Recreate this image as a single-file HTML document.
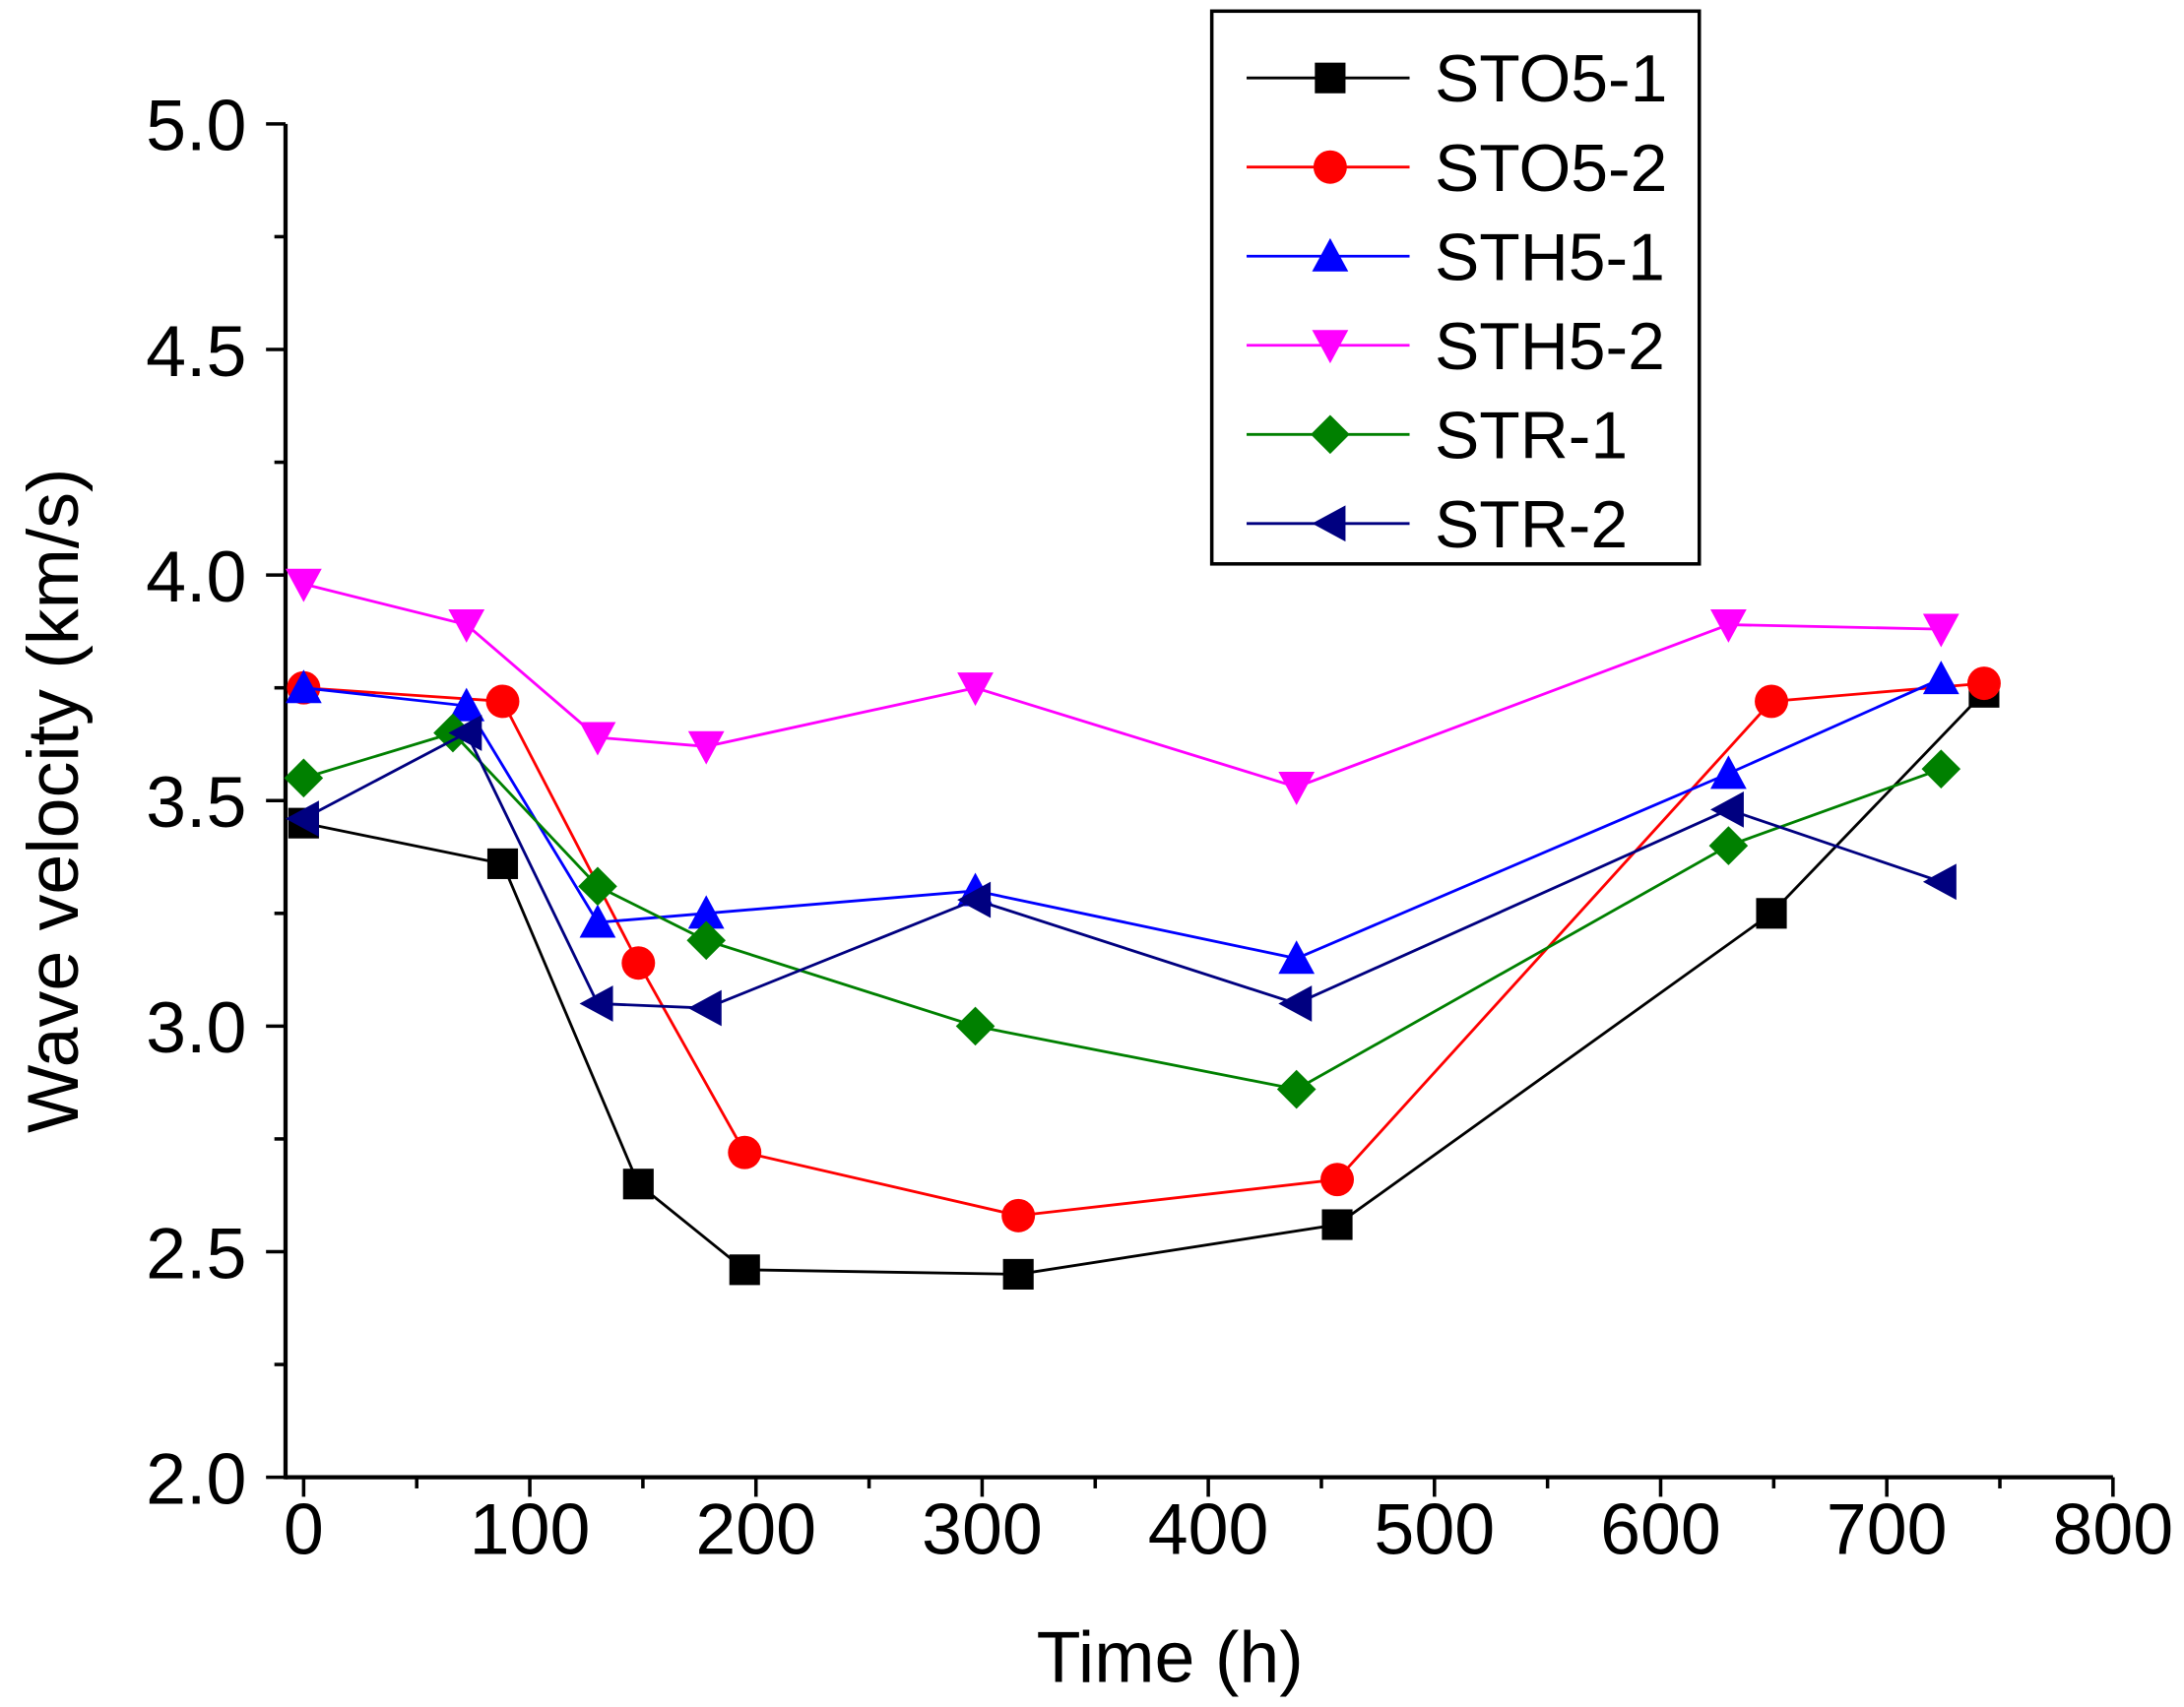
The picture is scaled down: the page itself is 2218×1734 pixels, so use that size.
<!DOCTYPE html>
<html><head><meta charset="utf-8"><style>
html,body{margin:0;padding:0;background:#fff;}
svg{display:block;font-family:"Liberation Sans",Arial,sans-serif;}
</style></head><body>
<svg id="chart" width="2218" height="1734" viewBox="0 0 1568 1226" preserveAspectRatio="none" xmlns="http://www.w3.org/2000/svg">
<rect width="1568" height="1226" fill="#fff"/>
<g id="axes"></g>
<g id="series"></g>
<g id="legend"></g>
</svg>
<script>
const seriesNames = ["STO5-1","STO5-2","STH5-1","STH5-2","STR-1","STR-2"];
const seriesColors = ["#000000","#ff0000","#0000ff","#ff00ff","#008000","#000080"];
const seriesMarkers = ["square","circle","up","down","diamond","left"];
const xSTO51 = [0,88,148,195,316,457,649,743];
const ySTO51 = [3.45,3.36,2.65,2.46,2.45,2.56,3.25,3.74];
const xSTO52 = [0,88,148,195,316,457,649,743];
const ySTO52 = [3.75,3.72,3.14,2.72,2.58,2.66,3.72,3.76];
const xSTH51 = [0,72,130,178,297,439,630,724];
const ySTH51 = [3.75,3.71,3.23,3.25,3.30,3.15,3.56,3.77];
const xSTH52 = [0,72,130,178,297,439,630,724];
const ySTH52 = [3.98,3.89,3.64,3.62,3.75,3.53,3.89,3.88];
const xSTR1 = [0,66,130,178,297,439,630,724];
const ySTR1 = [3.55,3.65,3.31,3.19,3.00,2.86,3.40,3.57];
const xSTR2 = [0,72,130,178,297,439,630,724];
const ySTR2 = [3.46,3.65,3.05,3.04,3.28,3.05,3.48,3.32];
const xTicks = [0,100,200,300,400,500,600,700,800];
const yTicks = [2.0,2.5,3.0,3.5,4.0,4.5,5.0];

const xs=[xSTO51,xSTO52,xSTH51,xSTH52,xSTR1,xSTR2];
const ys=[ySTO51,ySTO52,ySTH51,ySTH52,ySTR1,ySTR2];
const NS="http://www.w3.org/2000/svg";
const X0=218,X1=1517,Y0=1061,Y1=89,AXL=205;
function sx(v){return X0+(v-0)/(800-0)*(X1-X0);}
function sy(v){return Y0-(v-2)/(5-2)*(Y0-Y1);}
function mk(tag,attrs,parent){const e=document.createElementNS(NS,tag);for(const k in attrs)e.setAttribute(k,attrs[k]);parent.appendChild(e);return e;}
const axes=document.getElementById('axes');
let e;
e=mk('line',{x1:AXL,y1:Y0,x2:X1,y2:Y0,stroke:'#000','stroke-width':3},axes);


e=mk('line',{x1:AXL,y1:Y0+1.5,x2:AXL,y2:Y1,stroke:'#000','stroke-width':3},axes);


for(let v=0;v<=800;v+=50){const len=v%100===0?14:8;mk('line',{x1:sx(v),y1:Y0,x2:sx(v),y2:Y0+len,stroke:'#000','stroke-width':2.5},axes);}
xTicks.forEach(v=>{const t=mk('text',{x:sx(v),y:1116,'font-size':52,'text-anchor':'middle'},axes);t.textContent=v;

});
for(let v=2;v<=5.001;v+=0.25){const len=Math.abs(v*2-Math.round(v*2))<1e-6?14:8;mk('line',{x1:AXL,y1:sy(v),x2:AXL-len,y2:sy(v),stroke:'#000','stroke-width':2.5},axes);}
yTicks.forEach(v=>{const t=mk('text',{x:177,y:sy(v)+19,'font-size':52,'text-anchor':'end'},axes);t.textContent=v.toFixed(1);

});
e=mk('text',{x:840,y:1208,'font-size':52,'text-anchor':'middle'},axes);e.textContent='Time (h)';


e=mk('text',{x:0,y:0,'font-size':52,'text-anchor':'middle',transform:'translate(56,575) rotate(-90)'},axes);e.textContent='Wave velocity (km/s)';



function marker(type,x,y,c,p){const r=11;let el;
 if(type==='square')el=mk('rect',{x:x-r,y:y-r,width:2*r,height:2*r,fill:c},p);
 else if(type==='circle')el=mk('circle',{cx:x,cy:y,r:r+1,fill:c},p);
 else if(type==='up')el=mk('polygon',{points:`${x},${y-r-2} ${x-r-2},${y+r} ${x+r+2},${y+r}`,fill:c},p);
 else if(type==='down')el=mk('polygon',{points:`${x},${y+r+2} ${x-r-2},${y-r} ${x+r+2},${y-r}`,fill:c},p);
 else if(type==='diamond')el=mk('polygon',{points:`${x},${y-r-3} ${x+r+3},${y} ${x},${y+r+3} ${x-r-3},${y}`,fill:c},p);
 else el=mk('polygon',{points:`${x-r-2},${y} ${x+r},${y-r-2} ${x+r},${y+r+2}`,fill:c},p);
 return el;}
const sg=document.getElementById('series');
seriesNames.forEach((n,i)=>{
 const g=mk('g',{},sg);
 
 
 const pts=xs[i].map((v,j)=>sx(v)+','+sy(ys[i][j])).join(' ');
 mk('polyline',{points:pts,fill:'none',stroke:seriesColors[i],'stroke-width':2},g);
 xs[i].forEach((v,j)=>{const m=marker(seriesMarkers[i],sx(v),sy(ys[i][j]),seriesColors[i],g);
  
  });
});
const lg=document.getElementById('legend');


mk('rect',{x:870,y:8,width:350,height:397,fill:'#fff',stroke:'#000','stroke-width':2.5},lg);
seriesNames.forEach((n,i)=>{
 const y=56+i*64;
 const g=mk('g',{},lg);
 
 
 mk('line',{x1:895,y1:y,x2:1012,y2:y,stroke:seriesColors[i],'stroke-width':2},g);
 marker(seriesMarkers[i],955,y,seriesColors[i],g);
 const t=mk('text',{x:1030,y:y+17,'font-size':48},g);t.textContent=n;
});
</script>
</body></html>
